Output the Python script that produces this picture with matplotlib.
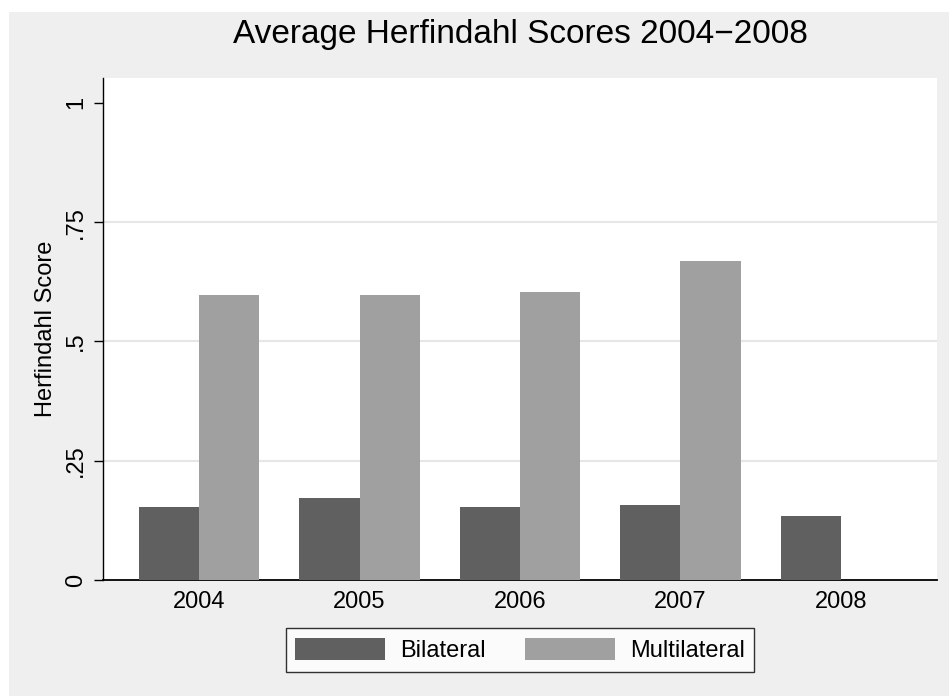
import numpy as np
import matplotlib.pyplot as plt
from matplotlib.patches import Rectangle

plt.rcParams['font.family'] = ['Liberation Sans', 'DejaVu Sans']

years = ['2004', '2005', '2006', '2007', '2008']
bilateral = [0.153, 0.172, 0.153, 0.158, 0.134]
multilateral = [0.597, 0.597, 0.603, 0.668, np.nan]

fig = plt.figure(figsize=(9.49, 6.96), dpi=100, facecolor='white')
# stata-like grey background
bg = Rectangle((9/949, 0), 1 - 9/949, 1 - 12/696, transform=fig.transFigure,
               facecolor='#efefef', edgecolor='none', zorder=-5)
fig.add_artist(bg)
ax = fig.add_axes([103/949, 1 - 580/696, (937 - 103)/949, (580 - 78)/696])
ax.set_facecolor('white')

x = np.arange(len(years))
w = 0.375
ax.bar(x - w/2, bilateral, w, color='#606060', label='Bilateral', zorder=3)
ax.bar(x + w/2, multilateral, w, color='#a0a0a0', label='Multilateral', zorder=3)

for g in [0.25, 0.5, 0.75]:
    ax.axhline(g, color='#e6e6e6', lw=1.5, zorder=1)

fs = 17
ax.set_xlim(-0.6, 4.6)
ax.set_ylim(0, 1.052)
ax.set_xticks(x)
ax.set_xticklabels(years, fontsize=fs)
ax.set_yticks([0, 0.25, 0.5, 0.75, 1])
ax.set_yticklabels(['0', '.25', '.5', '.75', '1'], fontsize=fs, rotation=90, va='center')
ax.tick_params(axis='x', length=0, pad=8)
ax.tick_params(axis='y', length=6.5, width=1, pad=5)

for s in ['top', 'right']:
    ax.spines[s].set_visible(False)
ax.spines['left'].set_linewidth(1.0)
ax.spines['bottom'].set_linewidth(1.3)

ax.set_ylabel('Herfindahl Score', fontsize=fs, labelpad=6)
fig.text(520/949, 1 - 34/696, 'Average Herfindahl Scores 2004\u22122008', fontsize=24,
         ha='center', va='center')

leg = ax.legend(loc='center', bbox_to_anchor=(520/949, 1 - 650/696), bbox_transform=fig.transFigure,
                ncol=2, fontsize=fs, frameon=True, fancybox=False, handlelength=3.8,
                handleheight=1.06, handletextpad=0.64, columnspacing=1.65, borderpad=0.42)
leg.get_frame().set_edgecolor('black')
leg.get_frame().set_linewidth(1.0)

fig.savefig('out.png', dpi=100, facecolor=fig.get_facecolor())
